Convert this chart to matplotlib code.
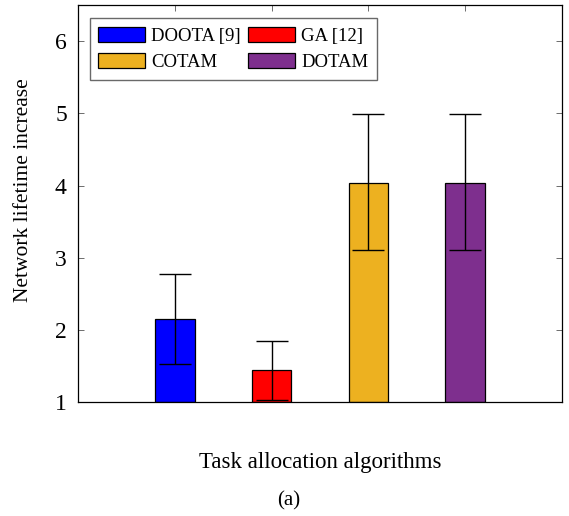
import matplotlib
matplotlib.use("Agg")
import matplotlib.pyplot as plt
from matplotlib.patches import Patch

plt.rcParams['font.family'] = ['Liberation Serif', 'DejaVu Serif']
plt.rcParams['mathtext.fontset'] = 'stix'

algorithms = ["DOOTA [9]", "GA [12]", "COTAM", "DOTAM"]
values = [2.15, 1.44, 4.04, 4.04]
err_low = [1.53, 1.03, 3.10, 3.10]
err_high = [2.78, 1.85, 4.99, 4.99]
colors = ["#0000FF", "#FF0000", "#EDB120", "#7E2F8E"]
yticks = [1, 2, 3, 4, 5, 6]

fig = plt.figure(figsize=(5.69, 5.16), dpi=100)
ax = fig.add_axes([0.137, 0.221, 0.851, 0.769])

positions = list(range(1, len(values) + 1))
for p, v, lo, hi, c in zip(positions, values, err_low, err_high, colors):
    ax.bar(p, v - 1, bottom=1, width=0.41, color=c, edgecolor='black', linewidth=0.9, zorder=2)
    ax.errorbar(p, v, yerr=[[v - lo], [hi - v]], fmt='none', ecolor='black',
                elinewidth=1.0, capsize=11.2, capthick=1.0, zorder=3)

ax.set_xlim(0, 5)
ax.set_ylim(1, 6.5)
ax.set_yticks(yticks)
ax.set_xticks(positions)
ax.set_xticklabels([])
ax.tick_params(axis='both', direction='in', length=4.5, width=0.6, color='#555555',
               top=True, right=True, labelsize=17, pad=8)
ax.tick_params(axis='x', bottom=False)
for s in ax.spines.values():
    s.set_linewidth(0.9)

ax.set_ylabel("Network lifetime increase", fontsize=15.5)
ax.yaxis.set_label_coords(-0.092, 0.534)
ax.set_xlabel("Task allocation algorithms", fontsize=16.5)
ax.xaxis.set_label_coords(0.5, -0.126)
fig.text(0.507, 0.03, "(a)", fontsize=15, ha='center', va='center')

# legend rows: DOOTA, GA / COTAM, DOTAM (matplotlib fills column-wise)
order = [0, 2, 1, 3]
handles = [Patch(facecolor=colors[i], edgecolor='black', linewidth=0.9) for i in order]
labels = [algorithms[i] for i in order]
leg = ax.legend(handles, labels, ncol=2, loc='upper left', bbox_to_anchor=(0.024, 0.967),
                fontsize=13.5, frameon=True, fancybox=False, edgecolor='#444444',
                handlelength=2.5, handleheight=0.85, columnspacing=0.35, handletextpad=0.35,
                borderpad=0.45, labelspacing=0.45, borderaxespad=0)
leg.get_frame().set_linewidth(1.0)

fig.savefig("out.png", dpi=100)
